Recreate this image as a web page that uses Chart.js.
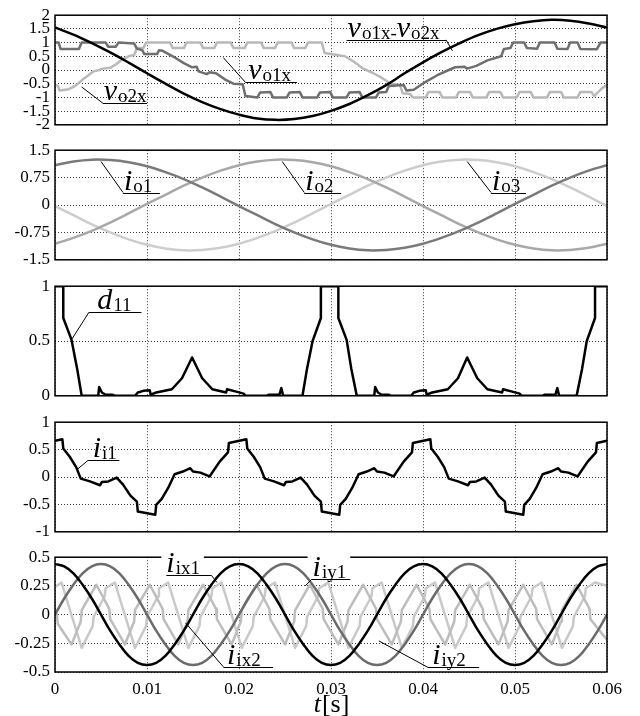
<!DOCTYPE html>
<html>
<head>
<meta charset="utf-8">
<script src="https://cdn.jsdelivr.net/npm/chart.js@4.4.1/dist/chart.umd.min.js"></script>
<style>
  html, body { margin: 0; padding: 0; background: #ffffff; }
  #stack { position: relative; width: 640px; height: 716px; overflow: hidden; background: #fff; }
  #stack canvas { position: absolute; left: 0; }
</style>
</head>
<body>
<div id="stack">
  <canvas id="p1" width="640" height="140" style="top:0px"></canvas>
  <canvas id="p2" width="640" height="140" style="top:135px"></canvas>
  <canvas id="p3" width="640" height="140" style="top:271px"></canvas>
  <canvas id="p4" width="640" height="140" style="top:407px"></canvas>
  <canvas id="p5" width="640" height="174" style="top:542px"></canvas>
</div>
<script>
// ---- axis ticks ----
const xTicks = [0, 0.01, 0.02, 0.03, 0.04, 0.05, 0.06];
const yTicksV = [-2, -1.5, -1, -0.5, 0, 0.5, 1, 1.5, 2];
const yTicksIo = [-1.5, -0.75, 0, 0.75, 1.5];
const yTicksD = [0, 0.5, 1];
const yTicksIi = [-1, -0.5, 0, 0.5, 1];
const yTicksIxy = [-0.5, -0.25, 0, 0.25, 0.5];

// ---- sample instants [s] ----
const t2ms = [0,0.002,0.004,0.006,0.008,0.010,0.012,0.014,0.016,0.018,0.020,0.022,0.024,0.026,0.028,0.030,
  0.032,0.034,0.036,0.038,0.040,0.042,0.044,0.046,0.048,0.050,0.052,0.054,0.056,0.058,0.060];
const t1ms = [0,0.001,0.002,0.003,0.004,0.005,0.006,0.007,0.008,0.009,0.010,0.011,0.012,0.013,0.014,0.015,
  0.016,0.017,0.018,0.019,0.020,0.021,0.022,0.023,0.024,0.025,0.026,0.027,0.028,0.029,0.030,0.031,0.032,
  0.033,0.034,0.035,0.036,0.037,0.038,0.039,0.040,0.041,0.042,0.043,0.044,0.045,0.046,0.047,0.048,0.049,
  0.050,0.051,0.052,0.053,0.054,0.055,0.056,0.057,0.058,0.059,0.060];

// ---- output voltages ----
const vDiff = [1.55,1.29,0.98,0.64,0.27,-0.12,-0.50,-0.86,-1.17,-1.43,-1.63,-1.77,-1.82,-1.79,-1.68,-1.49,
  -1.24,-0.92,-0.55,-0.12,0.28,0.65,0.98,1.27,1.50,1.67,1.78,1.83,1.80,1.70,1.55];

const vo1xT = [0,0.0004,0.0006,0.0026,0.0029,0.0055,0.0058,0.0066,0.0069,0.0086,0.0089,0.0095,0.0097,0.0111,
  0.0113,0.0117,0.0128,0.0140,0.0149,0.0154,0.0156,0.0165,0.0168,0.0175,0.0185,0.0194,0.0204,0.0207,0.0220,
  0.0223,0.0234,0.0237,0.0252,0.0255,0.0266,0.0269,0.0285,0.0288,0.0299,0.0302,0.0317,0.0320,0.0331,0.0334,
  0.0349,0.0352,0.0360,0.0363,0.0379,0.0382,0.0390,0.0402,0.0415,0.0428,0.0435,0.0445,0.0448,0.0458,0.0470,
  0.0485,0.0488,0.0495,0.0498,0.0510,0.0513,0.0524,0.0527,0.0543,0.0546,0.0557,0.0560,0.0568,0.0571,0.0589,
  0.0593,0.0600];
const vo1xV = [1.0,1.0,0.77,0.77,1.0,1.0,0.85,0.85,1.0,0.97,0.78,0.72,0.58,0.58,
  0.72,0.70,0.5,0.25,0.1,0.12,-0.05,-0.15,-0.08,-0.12,-0.35,-0.5,-0.52,-0.95,-1.0,
  -0.82,-0.8,-1.0,-1.0,-0.82,-0.8,-1.0,-1.0,-0.82,-0.8,-1.0,-1.0,-0.82,-0.8,-1.0,
  -1.0,-0.82,-0.8,-0.58,-0.55,-0.75,-0.72,-0.45,-0.2,0.0,0.1,0.12,0.05,0.15,0.35,
  0.5,0.77,0.8,1.0,1.0,0.8,0.78,1.0,1.0,0.78,0.77,1.0,1.0,0.77,0.76,
  1.0,1.0];

const vo2xT = [0,0.0003,0.0005,0.0015,0.0022,0.0030,0.0036,0.0042,0.0048,0.0052,0.0060,0.0066,0.0073,0.0080,
  0.0086,0.0089,0.0096,0.0099,0.0125,0.0128,0.0140,0.0143,0.0158,0.0161,0.0173,0.0176,0.0191,0.0194,0.0206,
  0.0209,0.0224,0.0227,0.0239,0.0242,0.0257,0.0260,0.0272,0.0275,0.0290,0.0293,0.0305,0.0315,0.0325,0.0335,
  0.0345,0.0355,0.0365,0.0375,0.0378,0.0386,0.0389,0.0403,0.0406,0.0418,0.0421,0.0436,0.0439,0.0451,0.0454,
  0.0469,0.0472,0.0484,0.0487,0.0502,0.0505,0.0517,0.0520,0.0535,0.0538,0.0550,0.0553,0.0568,0.0571,0.0583,
  0.0586,0.0595,0.0600];
const vo2xV = [-0.55,-0.57,-0.75,-0.70,-0.58,-0.35,-0.2,-0.05,0.0,0.05,0.08,0.2,0.38,0.5,
  0.55,0.8,0.8,1.0,1.0,0.8,0.8,1.0,1.0,0.8,0.8,1.0,1.0,0.8,0.8,
  1.0,1.0,0.8,0.8,1.0,1.0,0.8,0.8,1.0,1.0,0.62,0.56,0.5,0.3,0.05,
  -0.1,-0.28,-0.5,-0.55,-0.85,-0.88,-1.0,-1.0,-0.8,-0.8,-1.0,-1.0,-0.8,-0.8,-1.0,
  -1.0,-0.8,-0.8,-1.0,-1.0,-0.8,-0.8,-1.0,-1.0,-0.8,-0.8,-1.0,-1.0,-0.8,-0.8,
  -0.95,-0.65,-0.55];

// ---- output currents ----
const io1 = [1.09,1.19,1.24,1.23,1.17,1.06,0.90,0.71,0.48,0.23,-0.03,-0.28,-0.53,-0.75,-0.94,-1.09,
  -1.19,-1.24,-1.23,-1.17,-1.06,-0.90,-0.71,-0.48,-0.23,0.03,0.28,0.53,0.75,0.94,1.09];
const io2 = [-1.06,-0.90,-0.71,-0.48,-0.23,0.03,0.28,0.53,0.75,0.94,1.09,1.19,1.24,1.23,1.17,1.06,
  0.90,0.71,0.48,0.23,-0.03,-0.28,-0.53,-0.75,-0.94,-1.09,-1.19,-1.24,-1.23,-1.17,-1.06];
const io3 = [-0.03,-0.28,-0.53,-0.75,-0.94,-1.09,-1.19,-1.24,-1.23,-1.17,-1.06,-0.90,-0.71,-0.48,-0.23,
  0.03,0.28,0.53,0.75,0.94,1.09,1.19,1.24,1.23,1.17,1.06,0.90,0.71,0.48,0.23,-0.03];

// ---- duty cycle d11 ----
const d11T = [0,0.0009,0.0009,0.0018,0.0024,0.0029,0.0047,0.0048,0.0051,0.0055,0.0063,0.0065,0.0087,0.0090,
  0.0096,0.0103,0.0104,0.0110,0.0127,0.0138,0.0149,0.0160,0.0171,0.0186,0.0187,0.0196,0.0205,0.0207,0.0230,
  0.0232,0.0244,0.0246,0.0248,0.0269,0.0274,0.0280,0.0289,0.0289,0.0308,0.0308,0.0317,0.0322,0.0328,
  0.0347,0.0348,0.0351,0.0355,0.0363,0.0365,0.0387,0.0390,0.0396,0.0403,0.0404,0.0410,0.0427,0.0438,0.0448,
  0.0459,0.0470,0.0486,0.0487,0.0496,0.0505,0.0507,0.0530,0.0532,0.0544,0.0546,0.0548,0.0567,0.0573,0.0578,
  0.0587,0.0587,0.0600];
const d11V = [1,1,0.71,0.51,0.25,0,0,0.08,0.03,0.01,0.01,0,0,0.03,
  0.045,0.05,0.01,0.03,0.06,0.16,0.35,0.16,0.06,0.03,0.06,0.04,0.02,0,0,
  0.01,0.01,0.07,0,0,0.25,0.5,0.71,1,1,0.71,0.51,0.25,0,
  0,0.08,0.03,0.01,0.01,0,0,0.03,0.045,0.05,0.01,0.03,0.06,0.16,0.35,
  0.16,0.06,0.03,0.06,0.04,0.02,0,0,0.01,0.01,0.07,0,0,0.25,0.5,
  0.71,1,1];

// ---- input current i_i1 ----
const ii1T = [0,0.0008,0.0009,0.0016,0.0023,0.0028,0.0038,0.0049,0.0051,0.0058,0.0067,0.0074,0.0082,0.0089,
  0.0090,0.0109,0.0110,0.0116,0.0123,0.0130,0.0139,0.0147,0.0150,0.0158,0.0168,0.0179,0.0188,0.0189,
  0.0208,0.0209,0.0216,0.0223,0.0228,0.0238,0.0249,0.0251,0.0258,0.0267,0.0274,0.0282,0.0289,
  0.0290,0.0309,0.0310,0.0316,0.0323,0.0330,0.0339,0.0347,0.0350,0.0358,0.0368,0.0379,0.0388,0.0389,
  0.0408,0.0409,0.0416,0.0423,0.0428,0.0438,0.0449,0.0451,0.0458,0.0467,0.0474,0.0482,0.0489,
  0.0490,0.0509,0.0510,0.0516,0.0523,0.0530,0.0539,0.0547,0.0550,0.0558,0.0568,0.0579,0.0588,0.0589,0.0600];
const ii1V = [0.66,0.69,0.52,0.37,0.18,-0.03,-0.08,-0.15,-0.09,-0.08,-0.01,-0.14,-0.34,-0.45,
  -0.63,-0.69,-0.51,-0.40,-0.20,0.05,0.10,0.16,0.10,0.08,0.01,0.28,0.45,0.62,
  0.69,0.52,0.37,0.18,-0.03,-0.08,-0.15,-0.09,-0.08,-0.01,-0.14,-0.34,-0.45,
  -0.63,-0.69,-0.51,-0.40,-0.20,0.05,0.10,0.16,0.10,0.08,0.01,0.28,0.45,0.62,
  0.69,0.52,0.37,0.18,-0.03,-0.08,-0.15,-0.09,-0.08,-0.01,-0.14,-0.34,-0.45,
  -0.63,-0.69,-0.51,-0.40,-0.20,0.05,0.10,0.16,0.10,0.08,0.01,0.28,0.45,0.62,0.66];

// ---- input current components ----
const iix1 = [0.44,0.42,0.36,0.26,0.14,0,-0.14,-0.26,-0.36,-0.42,-0.44,-0.42,-0.36,-0.26,-0.14,0,0.14,0.26,0.36,0.42,
  0.44,0.42,0.36,0.26,0.14,0,-0.14,-0.26,-0.36,-0.42,-0.44,-0.42,-0.36,-0.26,-0.14,0,0.14,0.26,0.36,0.42,
  0.44,0.42,0.36,0.26,0.14,0,-0.14,-0.26,-0.36,-0.42,-0.44,-0.42,-0.36,-0.26,-0.14,0,0.14,0.26,0.36,0.42,0.44];
const iiy1 = [0,0.14,0.26,0.36,0.42,0.44,0.42,0.36,0.26,0.14,0,-0.14,-0.26,-0.36,-0.42,-0.44,-0.42,-0.36,-0.26,-0.14,
  0,0.14,0.26,0.36,0.42,0.44,0.42,0.36,0.26,0.14,0,-0.14,-0.26,-0.36,-0.42,-0.44,-0.42,-0.36,-0.26,-0.14,
  0,0.14,0.26,0.36,0.42,0.44,0.42,0.36,0.26,0.14,0,-0.14,-0.26,-0.36,-0.42,-0.44,-0.42,-0.36,-0.26,-0.14,0];

const iix2T = [0,0.0002,0.0003,
  0.0018,0.0028,0.0029,0.0045,0.0059,0.0060, 0.0076,0.0086,0.0087,0.0103,0.0117,0.0118,
  0.0134,0.0144,0.0145,0.0161,0.0175,0.0176, 0.0192,0.0202,0.0203,0.0219,0.0233,0.0234,
  0.0250,0.0260,0.0261,0.0277,0.0291,0.0292, 0.0308,0.0318,0.0319,0.0335,0.0349,0.0350,
  0.0366,0.0376,0.0377,0.0393,0.0407,0.0408, 0.0424,0.0434,0.0435,0.0451,0.0465,0.0466,
  0.0482,0.0492,0.0493,0.0509,0.0523,0.0524, 0.0540,0.0550,0.0551,0.0567,0.0581,0.0582,
  0.0600];
const iix2V = [0.03,0.0,-0.08,
  -0.26,-0.06,0.04,0.26,0.05,-0.04, -0.26,-0.06,0.04,0.26,0.05,-0.04,
  -0.26,-0.06,0.04,0.26,0.05,-0.04, -0.26,-0.06,0.04,0.26,0.05,-0.04,
  -0.26,-0.06,0.04,0.26,0.05,-0.04, -0.26,-0.06,0.04,0.26,0.05,-0.04,
  -0.26,-0.06,0.04,0.26,0.05,-0.04, -0.26,-0.06,0.04,0.26,0.05,-0.04,
  -0.26,-0.06,0.04,0.26,0.05,-0.04, -0.26,-0.06,0.04,0.26,0.05,-0.04,
  -0.22];

const iiy2T = [0,
  0.0007,0.0029,0.0041,0.0042,0.0054,0.0055, 0.0065,0.0087,0.0099,0.0100,0.0112,0.0113,
  0.0123,0.0145,0.0157,0.0158,0.0170,0.0171, 0.0181,0.0203,0.0215,0.0216,0.0228,0.0229,
  0.0239,0.0261,0.0273,0.0274,0.0286,0.0287, 0.0297,0.0319,0.0331,0.0332,0.0344,0.0345,
  0.0355,0.0377,0.0389,0.0390,0.0402,0.0403, 0.0413,0.0435,0.0447,0.0448,0.0460,0.0461,
  0.0471,0.0493,0.0505,0.0506,0.0518,0.0519, 0.0529,0.0551,0.0563,0.0564,0.0576,0.0577,
  0.0587,0.0600];
const iiy2V = [0.24,
  0.28,-0.29,-0.10,-0.02,0.16,0.23, 0.28,-0.29,-0.10,-0.02,0.16,0.23,
  0.28,-0.29,-0.10,-0.02,0.16,0.23, 0.28,-0.29,-0.10,-0.02,0.16,0.23,
  0.28,-0.29,-0.10,-0.02,0.16,0.23, 0.28,-0.29,-0.10,-0.02,0.16,0.23,
  0.28,-0.29,-0.10,-0.02,0.16,0.23, 0.28,-0.29,-0.10,-0.02,0.16,0.23,
  0.28,-0.29,-0.10,-0.02,0.16,0.23, 0.28,-0.29,-0.10,-0.02,0.16,0.23,
  0.28,0.25];

// ---- drawing helpers ----
const SERIF = "'Liberation Serif', 'Times New Roman', serif";
const tickFont = { family: SERIF, size: 17 };
const MAIN_FONT = "italic 30px " + SERIF;
const SUB_FONT = "19px " + SERIF;

const pairs = (ts, vs) => ts.map((t, i) => ({ x: t, y: vs[i] }));

function drawTag(chart, tag) {
  const ctx = chart.ctx;
  const X = t => chart.scales.x.getPixelForValue(t);
  const Y = v => chart.scales.y.getPixelForValue(v);
  const x0 = X(tag.at[0]);
  const uy = Math.round(Y(tag.at[1])) + 0.5;
  let w = 0;
  const runs = tag.text.map(([s, sub]) => {
    ctx.font = sub ? SUB_FONT : MAIN_FONT;
    const m = ctx.measureText(s).width;
    const r = { s, sub, x: x0 + w };
    w += m + (sub ? 0 : 1);
    return r;
  });
  ctx.save();
  if (tag.box) {
    const top = chart.chartArea.top - 3;
    ctx.fillStyle = '#ffffff';
    ctx.fillRect(x0 - 5, top, w + 9, uy - 3 - top);
  }
  ctx.fillStyle = '#000';
  ctx.textAlign = 'left';
  ctx.textBaseline = 'alphabetic';
  runs.forEach(r => {
    ctx.font = r.sub ? SUB_FONT : MAIN_FONT;
    ctx.fillText(r.s, r.x, uy - (r.sub ? 1.5 : 4));
  });
  ctx.strokeStyle = '#000';
  ctx.lineWidth = 1;
  ctx.beginPath();
  ctx.moveTo(X(tag.under[0]), uy);
  ctx.lineTo(X(tag.under[1]), uy);
  ctx.moveTo(X(tag.lead[0][0]), Y(tag.lead[0][1]));
  ctx.lineTo(X(tag.lead[1][0]), Y(tag.lead[1][1]));
  ctx.stroke();
  ctx.restore();
}

function makePanel(id, cfg) {
  const decor = {
    id: 'decor_' + id,
    afterDatasetsDraw(chart) {
      const { ctx, chartArea: a } = chart;
      ctx.save();
      ctx.strokeStyle = '#000';
      ctx.lineWidth = 1.5;
      ctx.strokeRect(a.left, a.top, a.right - a.left, a.bottom - a.top);
      ctx.restore();
    },
    afterDraw(chart) {
      (cfg.tags || []).forEach(tag => drawTag(chart, tag));
      if (cfg.xTitle) {
        const ctx = chart.ctx;
        ctx.save();
        ctx.fillStyle = '#000';
        ctx.textBaseline = 'alphabetic';
        ctx.font = "italic 26px " + SERIF;
        const w1 = ctx.measureText('t').width;
        ctx.font = "26px " + SERIF;
        const w2 = ctx.measureText('[s]').width;
        const cx = chart.scales.x.getPixelForValue(0.03);
        const left = cx - (w1 + w2) / 2;
        const base = chart.height - 4;
        ctx.font = "italic 26px " + SERIF;
        ctx.fillText('t', left, base);
        ctx.font = "26px " + SERIF;
        ctx.fillText('[s]', left + w1 + 1, base);
        ctx.restore();
      }
    }
  };
  return new Chart(document.getElementById(id), {
    type: 'line',
    data: {
      datasets: cfg.series.map(s => ({
        data: s.data,
        borderColor: s.color,
        borderWidth: s.width || 2.5,
        pointRadius: 0,
        tension: s.smooth ? 0.4 : 0,
        fill: false,
        borderJoinStyle: 'round',
        borderCapStyle: 'round'
      }))
    },
    options: {
      responsive: false,
      animation: false,
      events: [],
      layout: { padding: { left: 0, right: 33, top: 12, bottom: cfg.padBottom } },
      plugins: { legend: { display: false }, tooltip: { enabled: false } },
      scales: {
        x: {
          type: 'linear', min: 0, max: 0.06,
          afterBuildTicks: sc => { sc.ticks = xTicks.map(v => ({ value: v })); },
          afterFit: sc => { sc.height = cfg.xHeight; },
          grid: { color: '#3a3a3a', lineWidth: 1, drawTicks: false },
          border: { display: false, dash: [1, 2] },
          ticks: {
            display: !!cfg.xLabels, padding: 7, font: tickFont, color: '#000',
            maxRotation: 0, autoSkip: false, callback: v => String(v)
          }
        },
        y: {
          type: 'linear', min: cfg.yTicks[0], max: cfg.yTicks[cfg.yTicks.length - 1],
          afterBuildTicks: sc => { sc.ticks = cfg.yTicks.map(v => ({ value: v })); },
          afterFit: sc => { sc.width = 55; },
          grid: { color: '#3a3a3a', lineWidth: 1, drawTicks: false },
          border: { display: false, dash: [1, 2] },
          ticks: { padding: 5, font: tickFont, color: '#000', autoSkip: false, callback: v => String(v) }
        }
      }
    },
    plugins: [decor]
  });
}

// ---- panel 1: output voltages ----
makePanel('p1', {
  yTicks: yTicksV, padBottom: 12, xHeight: 0,
  series: [
    { data: pairs(t2ms, vDiff), color: '#000000', smooth: true },
    { data: pairs(vo1xT, vo1xV), color: '#6f6f6f' },
    { data: pairs(vo2xT, vo2xV), color: '#b9b9b9' }
  ],
  tags: [
    { text: [['v', 0], ['o1x', 1], ['-', 1], ['v', 0], ['o2x', 1]], at: [0.0318, 1.1],
      under: [0.0317, 0.0425], lead: [[0.0425, 1.1], [0.0432, 0.7]] },
    { text: [['v', 0], ['o1x', 1]], at: [0.0210, -0.45],
      under: [0.0207, 0.0263], lead: [[0.0207, -0.45], [0.0183, 0.45]] },
    { text: [['v', 0], ['o2x', 1]], at: [0.0053, -1.21],
      under: [0.0052, 0.0100], lead: [[0.0052, -1.21], [0.0029, -0.62]] }
  ]
});

// ---- panel 2: output currents ----
makePanel('p2', {
  yTicks: yTicksIo, padBottom: 11, xHeight: 0,
  series: [
    { data: pairs(t2ms, io1), color: '#7a7a7a', smooth: true },
    { data: pairs(t2ms, io2), color: '#a8a8a8', smooth: true },
    { data: pairs(t2ms, io3), color: '#cdcdcd', smooth: true }
  ],
  tags: [
    { text: [['i', 0], ['o1', 1]], at: [0.0075, 0.34], under: [0.0074, 0.0114], lead: [[0.0074, 0.34], [0.0050, 1.19]] },
    { text: [['i', 0], ['o2', 1]], at: [0.0272, 0.34], under: [0.0271, 0.0311], lead: [[0.0271, 0.34], [0.0247, 1.19]] },
    { text: [['i', 0], ['o3', 1]], at: [0.0475, 0.34], under: [0.0474, 0.0512], lead: [[0.0474, 0.34], [0.0448, 1.19]] }
  ]
});

// ---- panel 3: duty cycle ----
makePanel('p3', {
  yTicks: yTicksD, padBottom: 11, xHeight: 0,
  series: [ { data: pairs(d11T, d11V), color: '#000000' } ],
  tags: [
    { text: [['d', 0], ['11', 1]], at: [0.0046, 0.763], under: [0.0037, 0.0094], lead: [[0.0037, 0.763], [0.0018, 0.513]] }
  ]
});

// ---- panel 4: input current ----
makePanel('p4', {
  yTicks: yTicksIi, padBottom: 12, xHeight: 0,
  series: [ { data: pairs(ii1T, ii1V), color: '#000000' } ],
  tags: [
    { text: [['i', 0], ['i1', 1]], at: [0.0041, 0.305], under: [0.0036, 0.0070], lead: [[0.0036, 0.305], [0.0025, 0.15]] }
  ]
});

// ---- panel 5: input current components ----
makePanel('p5', {
  yTicks: yTicksIxy, padBottom: 0, xHeight: 44, xLabels: true, xTitle: true,
  series: [
    { data: pairs(t1ms, iix1), color: '#000000', smooth: true },
    { data: pairs(t1ms, iiy1), color: '#6b6b6b', smooth: true },
    { data: pairs(iix2T, iix2V), color: '#bdbdbd' },
    { data: pairs(iiy2T, iiy2V), color: '#c9c9c9' }
  ],
  tags: [
    { text: [['i', 0], ['ix1', 1]], at: [0.0121, 0.342], under: [0.0121, 0.0170], lead: [[0.0170, 0.342], [0.0176, 0.28]], box: true },
    { text: [['i', 0], ['iy1', 1]], at: [0.0280, 0.308], under: [0.0279, 0.0321], lead: [[0.0279, 0.308], [0.0272, 0.25]], box: true },
    { text: [['i', 0], ['ix2', 1]], at: [0.0187, -0.455], under: [0.0183, 0.0237], lead: [[0.0183, -0.455], [0.0142, -0.073]] },
    { text: [['i', 0], ['iy2', 1]], at: [0.0410, -0.458], under: [0.0405, 0.0461], lead: [[0.0405, -0.458], [0.0352, -0.229]] }
  ]
});
</script>
</body>
</html>
